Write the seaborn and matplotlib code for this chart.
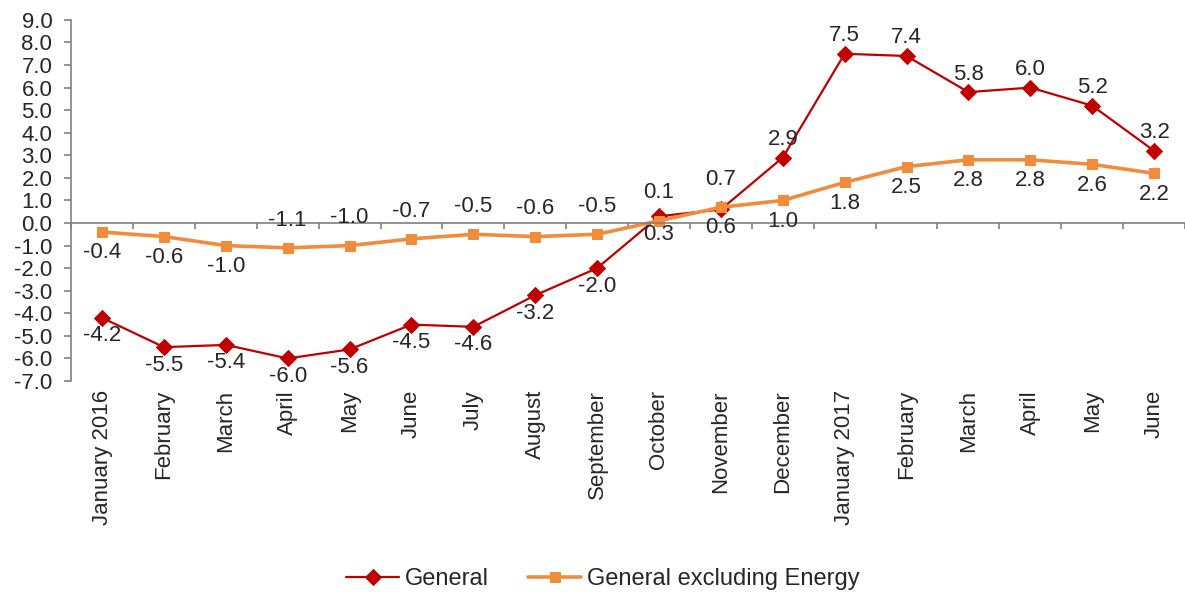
import numpy as np
import pandas as pd
import matplotlib
matplotlib.use("Agg")
import matplotlib.pyplot as plt
import seaborn as sns

categories = ["January 2016", "February", "March", "April", "May", "June", "July",
              "August", "September", "October", "November", "December",
              "January 2017", "February", "March", "April", "May", "June"]
general = [-4.2, -5.5, -5.4, -6.0, -5.6, -4.5, -4.6, -3.2, -2.0, 0.3, 0.6, 2.9,
           7.5, 7.4, 5.8, 6.0, 5.2, 3.2]
excl_energy = [-0.4, -0.6, -1.0, -1.1, -1.0, -0.7, -0.5, -0.6, -0.5, 0.1, 0.7, 1.0,
               1.8, 2.5, 2.8, 2.8, 2.6, 2.2]
# label placement: +1 above, -1 below
general_pos = [-1] * 11 + [1] * 7
excl_pos = [-1, -1, -1, 1, 1, 1, 1, 1, 1, 1, 1, -1, -1, -1, -1, -1, -1, -1]

series_names = ["General", "General excluding Energy"]
colors = {"General": "#C00000", "General excluding Energy": "#F08C3C"}

sns.set_theme(style="white")
plt.rcParams["font.family"] = ["Liberation Sans", "DejaVu Sans"]
plt.rcParams["font.size"] = 16

n = len(categories)
df = pd.DataFrame({
    "pos": list(range(n)) * 2,
    "value": general + excl_energy,
    "series": [series_names[0]] * n + [series_names[1]] * n,
})

fig = plt.figure(figsize=(11.85, 5.92), dpi=100)
ax = fig.add_axes([0.06, 0.3564, 0.94, 0.61])

sns.lineplot(data=df[df.series == series_names[0]], x="pos", y="value",
             color=colors["General"], marker="D", markersize=8, linewidth=1.6,
             markeredgecolor=colors["General"], ax=ax, label=series_names[0])
sns.lineplot(data=df[df.series == series_names[1]], x="pos", y="value",
             color=colors["General excluding Energy"], marker="s", markersize=7,
             linewidth=2.6, markeredgecolor=colors["General excluding Energy"],
             ax=ax, label=series_names[1])

ax.set_xlim(-0.5, n - 0.5)
ax.set_ylim(-7, 9)
ax.set_yticks(np.arange(-7, 10, 1))
ax.set_yticklabels([f"{v:.1f}" for v in np.arange(-7, 10, 1)], fontsize=16)
ax.set_xlabel("")
ax.set_ylabel("")

for s in ["top", "right"]:
    ax.spines[s].set_visible(False)
ax.spines["bottom"].set_position(("data", 0))
for s in ["left", "bottom"]:
    ax.spines[s].set_color("#808080")
    ax.spines[s].set_linewidth(1.2)

ax.set_xticks(np.arange(-0.5, n, 1))
ax.set_xticklabels([])
ax.tick_params(axis="x", direction="out", length=4, width=1.2, color="#808080",
               bottom=True)
ax.tick_params(axis="y", direction="out", length=5, width=1.2, color="#808080",
               left=True, pad=8.5)

for i, lab in enumerate(categories):
    ax.text(i, -0.025, lab, transform=ax.get_xaxis_transform(), rotation=90,
            ha="center", va="top", fontsize=16)

for i, (v, p) in enumerate(zip(general, general_pos)):
    ax.annotate(f"{v:.1f}", (i, v), xytext=(0, 13 * p), textcoords="offset points",
                ha="center", va="center", fontsize=16)
for i, (v, p) in enumerate(zip(excl_energy, excl_pos)):
    off = 20 if p > 0 else -15
    ax.annotate(f"{v:.1f}", (i, v), xytext=(0, off), textcoords="offset points",
                ha="center", va="center", fontsize=16)

ax.get_legend().remove()
handles, labels = ax.get_legend_handles_labels()
fig.legend(handles, labels, loc="center", bbox_to_anchor=(0.509, 0.022), ncol=2,
           frameon=False, fontsize=17, handlelength=2.25, columnspacing=1.65,
           handletextpad=0.25)

fig.savefig("out.png", dpi=100)
